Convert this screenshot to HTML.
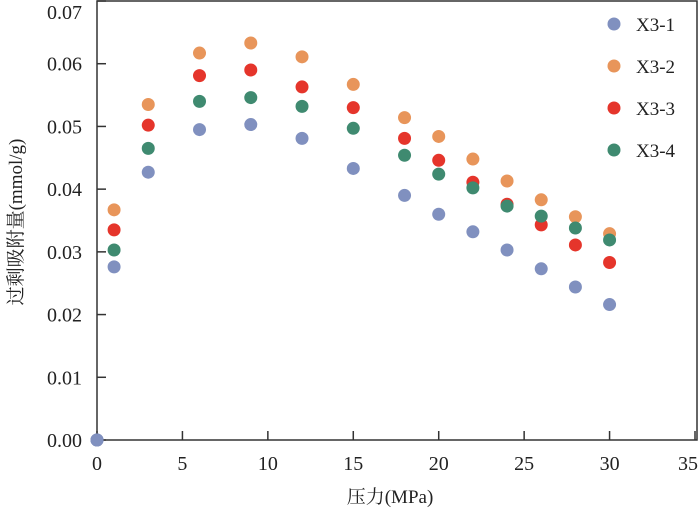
<!DOCTYPE html>
<html><head><meta charset="utf-8"><style>
html,body{margin:0;padding:0;background:#fff}
svg text{font-family:"Liberation Serif","Noto Serif CJK SC",serif;fill:#222}
</style></head><body>
<svg width="700" height="515" viewBox="0 0 700 515">
<g id="axes"></g><g id="marks"></g><g id="legend"></g>
</svg>
<script>
const xValues=[0,1,3,6,9,12,15,18,20,22,24,26,28,30];
const seriesNames=["X3-1","X3-2","X3-3","X3-4"];
const s1=[0,0.0276,0.0427,0.0495,0.0503,0.0481,0.0433,0.039,0.036,0.0332,0.0303,0.0273,0.0244,0.0216];
const s2=[0,0.0367,0.0535,0.0617,0.0633,0.0611,0.0567,0.0514,0.0484,0.0448,0.0413,0.0383,0.0356,0.0329];
const s3=[0,0.0335,0.0502,0.0581,0.059,0.0563,0.053,0.0481,0.0446,0.0411,0.0376,0.0343,0.0311,0.0283];
const s4=[0,0.0303,0.0465,0.054,0.0546,0.0532,0.0497,0.0454,0.0424,0.0402,0.0373,0.0357,0.0338,0.0319];
const xTicks=[0,5,10,15,20,25,30,35];
const yTicks=[0,0.01,0.02,0.03,0.04,0.05,0.06,0.07];
const yTickLabels=["0.00","0.01","0.02","0.03","0.04","0.05","0.06","0.07"];
const colors=["#8090bf","#e8955a","#e5352b","#3f8a70"];
const NS="http://www.w3.org/2000/svg";
const L=97,R=697,T=1,B=440;
const xs=v=>L+v*(598/35);
const ys=v=>B-v*(B-T)/0.07;
function mk(tag,attrs,parent,txt){const e=document.createElementNS(NS,tag);for(const k in attrs)e.setAttribute(k,attrs[k]);if(txt!==undefined)e.textContent=txt;parent.appendChild(e);return e;}
const ax=document.getElementById('axes');
const frame=mk('rect',{x:L,y:T,width:R-L,height:B-T,fill:'none',stroke:'#333','stroke-width':1.5},ax);


xTicks.forEach(t=>{
  const l=mk('line',{x1:xs(t),x2:xs(t),y1:B,y2:B-9,stroke:'#333','stroke-width':1.5},ax);
  
  
  const tx=mk('text',{x:Math.min(xs(t),688),y:470,'text-anchor':'middle','font-size':20},ax,String(t));
  
  
});
yTicks.forEach((t,i)=>{
  const l=mk('line',{x1:L,x2:L+9,y1:ys(t),y2:ys(t),stroke:'#333','stroke-width':1.5},ax);
  
  
  const tx=mk('text',{x:82,y:Math.max(ys(t)+7,19),'text-anchor':'end','font-size':20},ax,yTickLabels[i]);
  
  
});
const xt=mk('text',{x:390,y:503,'text-anchor':'middle','font-size':19},ax,'压力(MPa)');


const yt=mk('text',{x:0,y:0,'text-anchor':'middle','font-size':19,transform:'translate(22,222) rotate(-90)'},ax,'过剩吸附量(mmol/g)');


const mg=document.getElementById('marks');
[s1,s2,s3,s4].forEach((s,si)=>{
  s.forEach((v,i)=>{
    const c=mk('circle',{cx:xs(xValues[i]),cy:ys(v),r:6.5,fill:i===0?"#8090bf":colors[si]},mg);
    
    
  });
});
const lg=document.getElementById('legend');
seriesNames.forEach((n,i)=>{
  const y=24+i*42;
  const c=mk('circle',{cx:614,cy:y,r:6.5,fill:colors[i]},lg);
  
  
  const t=mk('text',{x:636,y:y+7,'font-size':19},lg,n);
  
  
});
</script>
</body></html>
